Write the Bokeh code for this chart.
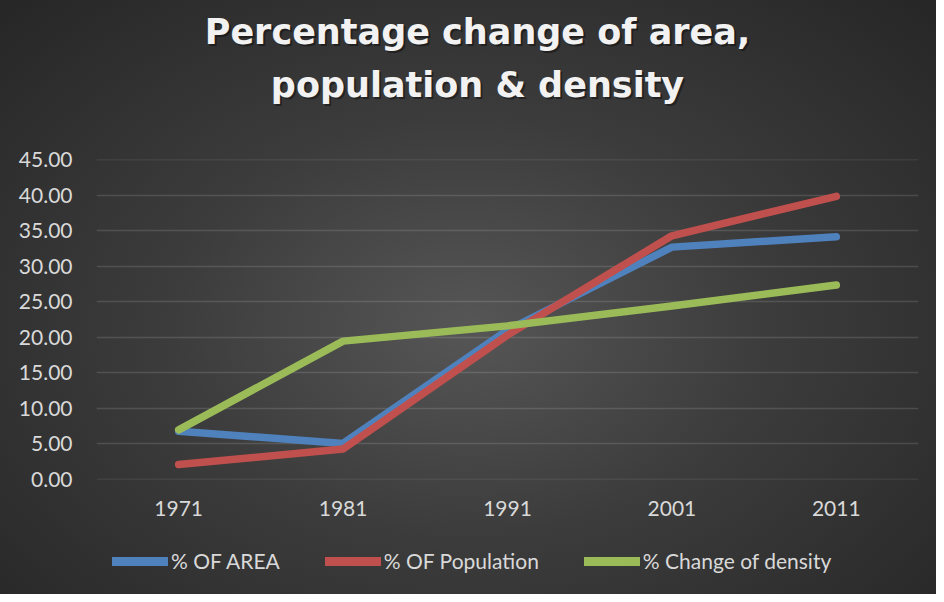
from bokeh.plotting import figure
from bokeh.layouts import column
from bokeh.models import Label, Legend, LegendItem, FactorRange, Range1d, NumeralTickFormatter, FixedTicker, ColumnDataSource
from bokeh.embed import file_html
from bokeh.resources import INLINE

years = ["1971", "1981", "1991", "2001", "2011"]
pct_area = [6.75, 5.03, 21.0, 32.7, 34.15]
pct_population = [2.05, 4.25, 20.3, 34.3, 39.85]
pct_density = [6.95, 19.45, 21.6, 24.4, 27.35]
series_names = ["% OF AREA", "% OF Population", "% Change of density"]
series_colors = ["#4f81bd", "#c0504d", "#9bbb59"]
y_ticks = [0, 5, 10, 15, 20, 25, 30, 35, 40, 45]
title_lines = ["Percentage change of area,", "population & density"]

FONT = "Lato"
TFONT = "DejaVu Sans"
W = 936


def transparent(fig):
    fig.background_fill_alpha = 0
    fig.border_fill_alpha = 0
    fig.outline_line_color = None


src = ColumnDataSource(dict(x=years, area=pct_area, pop=pct_population, dens=pct_density))
cols = ["area", "pop", "dens"]

# ---------- title strip ----------
T = figure(width=W, height=144, output_backend="svg", toolbar_location=None,
           x_range=Range1d(0, W), y_range=Range1d(0, 144),
           x_axis_type=None, y_axis_type=None,
           min_border_left=0, min_border_right=0, min_border_top=0, min_border_bottom=0)
transparent(T)
T.grid.visible = False
for i, line in enumerate(title_lines):
    yb = 113 - i * 53
    T.add_layout(Label(x=383, y=yb - 2, x_units="screen", y_units="screen", text=line,
                       text_align="center", text_baseline="alphabetic", text_font=TFONT,
                       text_font_style="bold", text_font_size="35px", text_color="black", text_alpha=0.4))
    T.add_layout(Label(x=381, y=yb, x_units="screen", y_units="screen", text=line,
                       text_align="center", text_baseline="alphabetic", text_font=TFONT,
                       text_font_style="bold", text_font_size="35px", text_color="#f2f2f2"))

# ---------- main chart ----------
p = figure(frame_width=822, frame_height=320, output_backend="svg", toolbar_location=None,
           x_range=FactorRange(*years), y_range=Range1d(-0.05, 45.05),
           min_border_left=96, min_border_right=18, min_border_top=15, min_border_bottom=58)
transparent(p)

for ax in (p.xaxis[0], p.yaxis[0]):
    ax.axis_line_color = None
    ax.major_tick_line_color = None
    ax.minor_tick_line_color = None
    ax.major_tick_out = 0
    ax.major_tick_in = 0
    ax.major_label_text_color = "#d9d9d9"
    ax.major_label_text_font = FONT
    ax.major_label_text_font_size = "21px"
p.yaxis[0].ticker = FixedTicker(ticks=y_ticks)
p.yaxis[0].formatter = NumeralTickFormatter(format="0.00")
p.yaxis[0].major_label_standoff = 24
p.xaxis[0].major_label_standoff = 21

p.xgrid.grid_line_color = None
p.ygrid.grid_line_color = "#ffffff"
p.ygrid.grid_line_alpha = 0.13
p.ygrid.grid_line_width = 1.5

for col, color in zip(cols, series_colors):
    p.line("x", col, source=src, line_color=color, line_width=7.5, line_cap="round", line_join="round")

# ---------- legend strip ----------
B = figure(width=W, height=57, output_backend="svg", toolbar_location=None,
           x_range=FactorRange(*years), y_range=Range1d(0, 45),
           x_axis_location=None, y_axis_location=None,
           min_border_left=0, min_border_right=0, min_border_top=0, min_border_bottom=0)
transparent(B)
B.grid.visible = False
leg_renderers = []
for col, color in zip(cols, series_colors):
    r = B.line("x", col, source=src, line_color=color, line_width=9, line_cap="round", visible=False)
    leg_renderers.append(r)

legend = Legend(items=[LegendItem(label=n, renderers=[r]) for n, r in zip(series_names, leg_renderers)],
                orientation="horizontal", location=(16, 21),
                glyph_width=56, glyph_height=20, label_height=20, label_standoff=3, spacing=45,
                padding=0, margin=0, border_line_color=None, background_fill_alpha=0,
                inactive_fill_alpha=0,
                label_text_color="#d9d9d9", label_text_font=FONT, label_text_font_size="21px")
B.add_layout(legend, "center")

layout = column(T, p, B, spacing=0)
layout.styles = {"background": "radial-gradient(ellipse farthest-corner at 50% 55%, #565656 0%, #3c3c3c 45%, #262626 100%)"}

open("out.html", "w").write(file_html(layout, INLINE))
